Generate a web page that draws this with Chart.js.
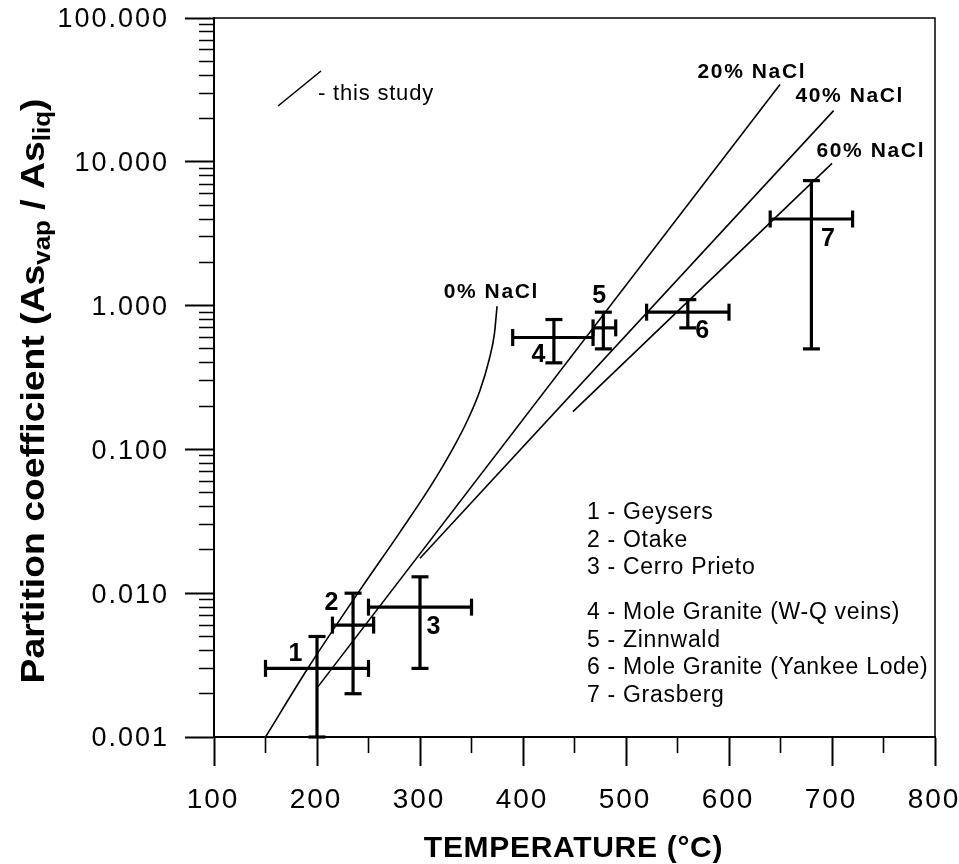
<!DOCTYPE html>
<html>
<head>
<meta charset="utf-8">
<script src="https://cdn.jsdelivr.net/npm/chart.js@4.4.0/dist/chart.umd.min.js"></script>
<style>
  html, body { margin: 0; padding: 0; background: #fff; }
  #wrap { width: 959px; height: 864px; position: relative; }
</style>
</head>
<body>
<div id="wrap"><canvas id="chart"></canvas></div>
<script>
// sites, numbered as in the box at lower right
const siteNames = ['Geysers', 'Otake', 'Cerro Prieto', 'Mole Granite (W-Q veins)', 'Zinnwald', 'Mole Granite (Yankee Lode)', 'Grasberg'];
const siteTemp = [200, 235, 300, 430, 478, 560, 680];
const siteTempLow = [150, 215, 250, 390, 468, 520, 640];
const siteTempHigh = [250, 255, 350, 468, 490, 600, 720];
const siteK = [0.003, 0.006, 0.008, 0.6, 0.7, 0.9, 4.0];
const siteKLow = [0.001, 0.002, 0.003, 0.4, 0.5, 0.7, 0.5];
const siteKHigh = [0.005, 0.010, 0.013, 0.8, 0.9, 1.1, 7.4];
// where the site numbers are written (data units)
const siteLabelTemp = [179, 214, 313, 415, 474, 574, 696];
const siteLabelK = [0.0038, 0.0085, 0.0058, 0.45, 1.17, 0.66, 2.92];

// this study: curves for several NaCl contents
const nacl0Temp = [150, 191.3, 241.7, 280.6, 309.7, 331.1, 346.6, 358.3, 367, 372.3, 374.8];
const nacl0K = [0.001, 0.00302, 0.0105, 0.0266, 0.0546, 0.0987, 0.162, 0.258, 0.417, 0.642, 0.989];
const nacl20Temp = [201, 649.5];
const nacl20K = [0.00224, 34.5];
const nacl40Temp = [300, 701.6];
const nacl40K = [0.0175, 22.7];
const nacl60Temp = [448.5, 700];
const nacl60K = [0.183, 9.75];
const curveNames = ['0% NaCl', '20% NaCl', '40% NaCl', '60% NaCl'];
const curveLabelTemp = [368.4, 621.4, 716.5, 736.9];
const curveLabelK = [1.237, 41.8, 28.5, 11.8];

// axes
const xTicks = [100, 200, 300, 400, 500, 600, 700, 800];
const yTicks = [0.001, 0.01, 0.1, 1, 10, 100];
const yTickLabels = ['0.001', '0.010', '0.100', '1.000', '10.000', '100.000'];

const FONT = "'Liberation Sans', Arial, Helvetica, sans-serif";
const NARROW = "'Liberation Sans Narrow', 'Arial Narrow', 'Liberation Sans', Arial, sans-serif";

const toPts = (xs, ys) => xs.map((x, i) => ({ x: x, y: ys[i] }));
const isDecade = v => Math.abs(Math.log10(v) - Math.round(Math.log10(v))) < 1e-6;

const curveStyle = { borderColor: '#000', borderWidth: 1.6, pointRadius: 0, showLine: true, clip: false };
const barStyle = {
	borderColor: '#000', borderWidth: 3.2, showLine: true, clip: false,
	pointStyle: 'line', pointRadius: 8.5, pointBorderWidth: 3.2, pointBorderColor: '#000'
};

const datasets = [
	{ ...curveStyle, data: toPts(nacl0Temp, nacl0K), cubicInterpolationMode: 'monotone' },
	{ ...curveStyle, data: toPts(nacl20Temp, nacl20K) },
	{ ...curveStyle, data: toPts(nacl40Temp, nacl40K) },
	{ ...curveStyle, data: toPts(nacl60Temp, nacl60K) },
];
siteTemp.forEach((t, i) => {
	datasets.push({ ...barStyle, rotation: 90,
		data: [{ x: siteTempLow[i], y: siteK[i] }, { x: siteTempHigh[i], y: siteK[i] }] });
	datasets.push({ ...barStyle, rotation: 0,
		data: [{ x: t, y: siteKLow[i] }, { x: t, y: siteKHigh[i] }] });
});

const overlay = {
	id: 'overlay',
	beforeDraw(chart) {
		const ctx = chart.ctx;
		ctx.save();
		ctx.fillStyle = '#fff';
		ctx.fillRect(0, 0, chart.width, chart.height);
		ctx.restore();
		// slightly spaced tick labels like the original
		ctx.letterSpacing = '2px';
	},
	afterDraw(chart) {
		const { ctx, chartArea: a, scales: { x, y } } = chart;
		ctx.save();
		ctx.letterSpacing = '0px';
		ctx.fillStyle = '#000';
		ctx.strokeStyle = '#000';

		// top and right frame
		ctx.lineWidth = 1.5;
		ctx.beginPath();
		ctx.moveTo(a.left, a.top);
		ctx.lineTo(a.right, a.top);
		ctx.lineTo(a.right, a.bottom);
		ctx.stroke();

		// site numbers
		ctx.font = 'bold 25px ' + FONT;
		ctx.textAlign = 'center';
		ctx.textBaseline = 'middle';
		siteLabelTemp.forEach((t, i) => {
			ctx.fillText(String(i + 1), x.getPixelForValue(t), y.getPixelForValue(siteLabelK[i]));
		});

		// curve names
		ctx.font = 'bold 21px ' + FONT;
		ctx.letterSpacing = '1.6px';
		curveNames.forEach((n, i) => {
			ctx.fillText(n, x.getPixelForValue(curveLabelTemp[i]) + 0.8, y.getPixelForValue(curveLabelK[i]));
		});

		// "this study" key
		ctx.lineWidth = 1.6;
		ctx.beginPath();
		ctx.moveTo(a.left + 64, a.top + 88);
		ctx.lineTo(a.left + 107, a.top + 53);
		ctx.stroke();
		ctx.font = '22px ' + FONT;
		ctx.letterSpacing = '0.8px';
		ctx.textAlign = 'left';
		ctx.fillText('- this study', a.left + 104, a.top + 76);

		// site list
		ctx.font = '23px ' + FONT;
		ctx.letterSpacing = '0.7px';
		let rowY = a.top + 495;
		siteNames.forEach((n, i) => {
			ctx.fillText((i + 1) + ' - ' + n, a.left + 373, rowY);
			rowY += (i === 2) ? 45 : 27.5;
		});

		// x title
		ctx.font = 'bold 30px ' + FONT;
		ctx.letterSpacing = '0.7px';
		ctx.textAlign = 'center';
		ctx.fillText('TEMPERATURE (\u00B0C)', 573.5, 849);

		// y title with subscripts, squeezed to the original length
		ctx.letterSpacing = '0px';
		const parts = [
			['Partition coefficient (As', false], ['vap', true],
			[' / As', false], ['liq', true], [')', false]
		];
		const mainFont = 'bold 33px ' + NARROW;
		const subFont = 'bold 23px ' + NARROW;
		let total = 0;
		parts.forEach(p => { ctx.font = p[1] ? subFont : mainFont; p.push(ctx.measureText(p[0]).width); total += p[2]; });
		ctx.translate(44, 391);
		ctx.rotate(-Math.PI / 2);
		ctx.scale(585 / total, 1);
		ctx.textAlign = 'left';
		ctx.textBaseline = 'alphabetic';
		let cx = -total / 2;
		parts.forEach(p => {
			ctx.font = p[1] ? subFont : mainFont;
			ctx.fillText(p[0], cx, p[1] ? 6 : 0);
			cx += p[2];
		});
		ctx.restore();
	}
};

new Chart(document.getElementById('chart'), {
	type: 'scatter',
	data: { datasets: datasets },
	options: {
		responsive: true,
		maintainAspectRatio: false,
		animation: false,
		events: [],
		layout: { padding: { top: 18, right: 24, left: 0, bottom: 0 } },
		plugins: { legend: { display: false }, tooltip: { enabled: false }, title: { display: false } },
		scales: {
			x: {
				type: 'linear', min: 100, max: 800,
				border: { display: true, color: '#000', width: 2 },
				grid: {
					drawOnChartArea: false, drawTicks: true, tickLength: 29,
					tickColor: '#000',
					tickWidth: c => (c.tick && c.tick.value % 100 === 0) ? 2 : 1.6,
					tickBorderDash: c => (c.tick && c.tick.value % 100 === 0) ? [] : [15, 100]
				},
				ticks: {
					stepSize: 50, autoSkip: false, maxRotation: 0, minRotation: 0,
					padding: 17, labelOffset: -1, color: '#000', font: { family: FONT, size: 28 },
					callback: v => xTicks.includes(v) ? String(v) : ''
				},
				afterFit: s => { s.height = 127; s.paddingLeft = 0; s.paddingRight = 0; }
			},
			y: {
				type: 'logarithmic', min: 0.001, max: 100,
				border: { display: true, color: '#000', width: 2 },
				grid: {
					drawOnChartArea: false, drawTicks: true, tickLength: 29,
					tickColor: '#000',
					tickWidth: c => (c.tick && isDecade(c.tick.value)) ? 2 : 1.6,
					tickBorderDash: c => (c.tick && isDecade(c.tick.value)) ? [] : [0, 14, 15, 100]
				},
				ticks: {
					autoSkip: false, padding: 16, labelOffset: 2, color: '#000', font: { family: FONT, size: 27 },
					callback: v => {
						const i = yTicks.findIndex(t => Math.abs(t - v) / t < 1e-6);
						return i >= 0 ? yTickLabels[i] : '';
					}
				},
				afterBuildTicks: s => {
					const vals = [];
					yTicks.forEach((v, i) => {
						vals.push(v);
						if (i < yTicks.length - 1) {
							for (let m = 2; m <= 9; m++) vals.push(+(v * m).toPrecision(3));
						}
					});
					s.ticks = vals.map(v => ({ value: v }));
				},
				afterFit: s => { s.width = 214; s.paddingTop = 0; s.paddingBottom = 0; }
			}
		}
	},
	plugins: [overlay]
});
</script>
</body>
</html>
